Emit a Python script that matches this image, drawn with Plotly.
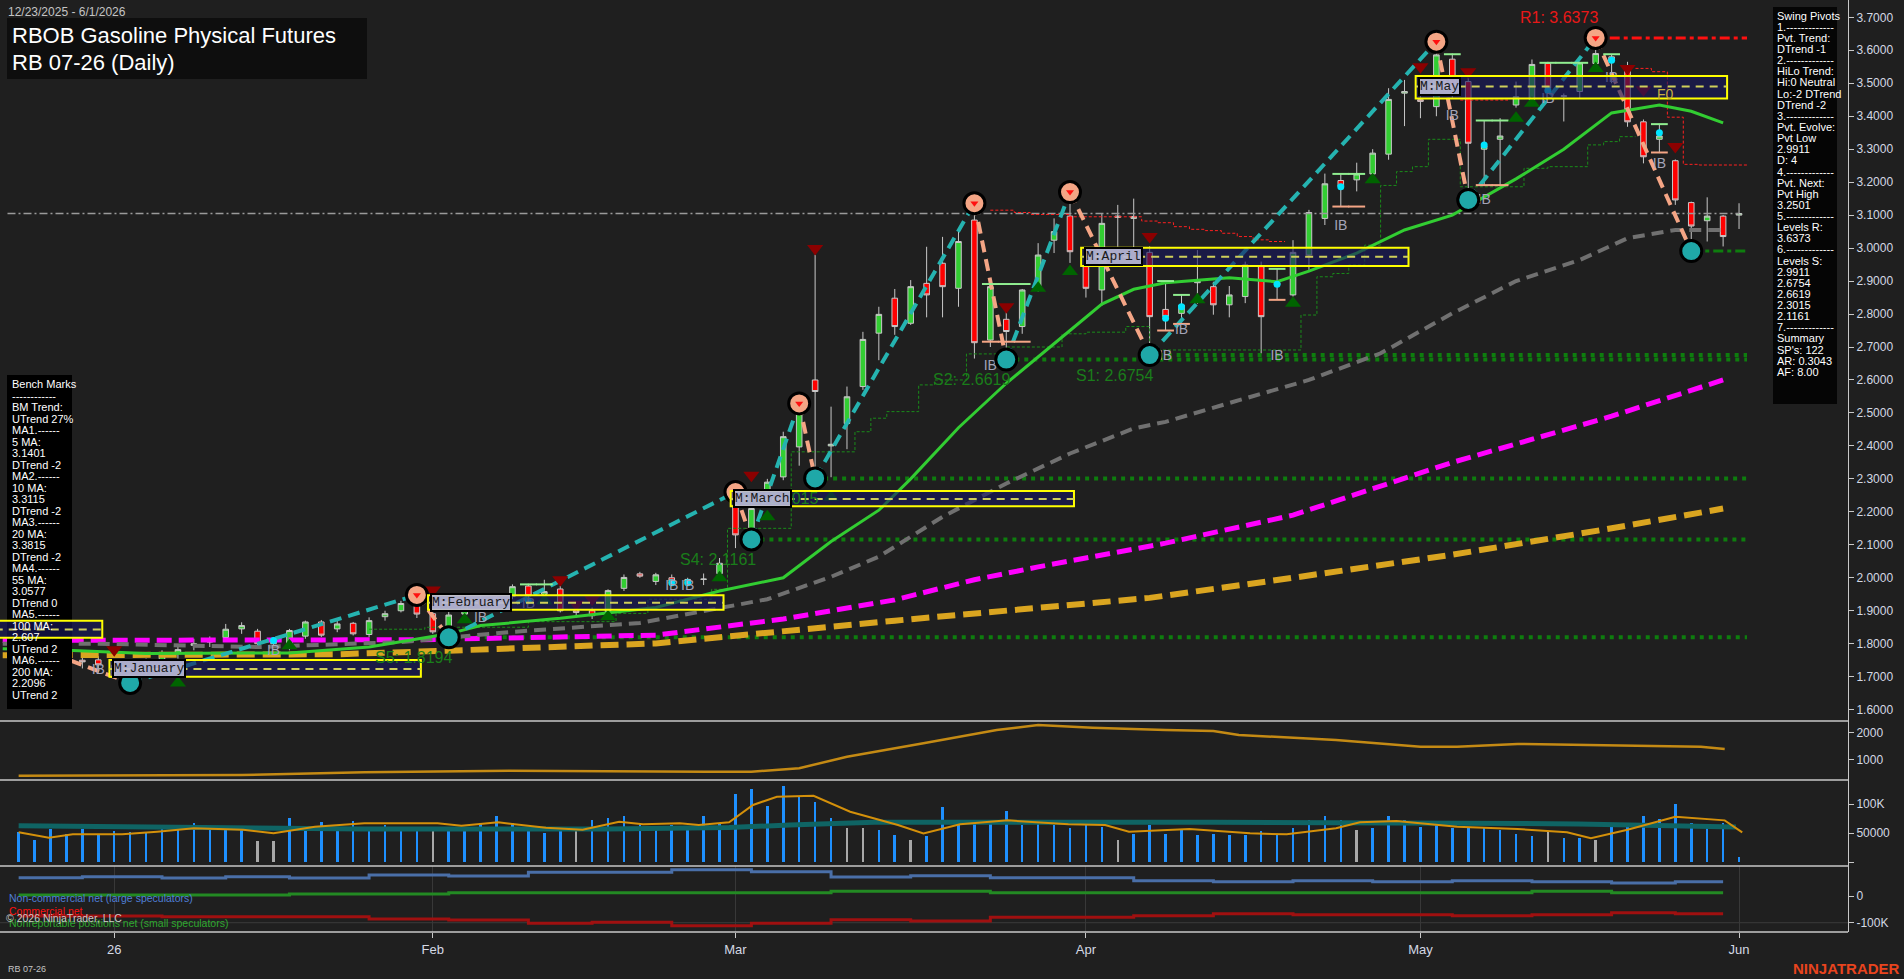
import plotly.graph_objects as go
from plotly.subplots import make_subplots

# ---------------- data ----------------
opens = [1.800, 1.790, 1.780, 1.760, 1.750, 1.751, 1.735, 1.710, 1.720, 1.745,
         1.770, 1.795, 1.805, 1.819, 1.845, 1.838, 1.800, 1.800, 1.823, 1.866,
         1.845, 1.862, 1.828, 1.882, 1.900, 1.920, 1.891, 1.847, 1.890, 1.935,
         1.920, 1.943, 1.975, 1.950, 1.966, 1.900, 1.900, 1.897, 1.968, 2.012,
         1.989, 2.000, 1.995, 1.995, 2.013, 2.221, 2.144, 2.265, 2.306, 2.397,
         2.600, 2.400, 2.468, 2.580, 2.742, 2.848, 2.772, 2.893, 2.954, 2.878,
         3.085, 2.721, 2.784, 2.762, 2.883, 3.024, 3.097, 2.944, 2.873, 3.093,
         3.090, 2.987, 2.814, 2.802, 2.895, 2.883, 2.828, 2.853, 2.944, 2.890,
         2.858, 2.979, 3.090, 3.205, 3.207, 3.225, 3.285, 3.470, 3.450, 3.429,
         3.573, 3.505, 3.300, 3.330, 3.434, 3.451, 3.560, 3.460, 3.475, 3.560,
         3.580, 3.550, 3.383, 3.330, 3.265, 3.138, 3.083, 3.097, 3.100]
highs = [1.820, 1.810, 1.800, 1.780, 1.770, 1.762, 1.745, 1.730, 1.755, 1.780,
         1.792, 1.815, 1.822, 1.860, 1.865, 1.845, 1.820, 1.845, 1.870, 1.872,
         1.870, 1.866, 1.880, 1.900, 1.930, 1.948, 1.900, 1.900, 1.945, 1.945,
         1.950, 1.980, 1.982, 1.994, 1.975, 1.905, 1.910, 1.965, 2.010, 2.018,
         2.015, 2.010, 2.000, 2.013, 2.060, 2.260, 2.240, 2.300, 2.443, 2.529,
         2.980, 2.519, 2.580, 2.746, 2.822, 2.876, 2.903, 3.004, 3.034, 3.054,
         3.146, 2.890, 2.820, 2.876, 3.015, 3.090, 3.170, 2.990, 3.105, 3.131,
         3.150, 3.005, 2.900, 2.858, 2.994, 2.898, 2.885, 2.959, 2.959, 2.939,
         3.024, 3.116, 3.226, 3.226, 3.259, 3.300, 3.485, 3.510, 3.520, 3.626,
         3.590, 3.540, 3.387, 3.394, 3.505, 3.572, 3.565, 3.469, 3.562, 3.6373,
         3.588, 3.565, 3.390, 3.376, 3.269, 3.141, 3.154, 3.100, 3.136]
lows = [1.780, 1.770, 1.750, 1.735, 1.725, 1.725, 1.700, 1.681, 1.705, 1.735,
        1.755, 1.780, 1.790, 1.810, 1.830, 1.790, 1.790, 1.780, 1.815, 1.820,
        1.835, 1.825, 1.820, 1.870, 1.895, 1.878, 1.830, 1.8194, 1.885, 1.905,
        1.910, 1.935, 1.935, 1.940, 1.895, 1.880, 1.875, 1.885, 1.960, 2.000,
        1.978, 1.980, 1.985, 1.978, 2.005, 2.090, 2.1161, 2.255, 2.296, 2.340,
        2.3015, 2.305, 2.390, 2.570, 2.660, 2.737, 2.767, 2.790, 2.790, 2.822,
        2.665, 2.700, 2.6619, 2.740, 2.868, 2.985, 2.955, 2.850, 2.825, 3.004,
        2.990, 2.6754, 2.750, 2.770, 2.831, 2.798, 2.790, 2.833, 2.680, 2.843,
        2.853, 2.934, 3.070, 3.126, 3.172, 3.222, 3.268, 3.370, 3.394, 3.400,
        3.455, 3.146, 3.191, 3.191, 3.426, 3.449, 3.478, 3.384, 3.455, 3.545,
        3.500, 3.368, 3.257, 3.288, 3.131, 2.9911, 3.020, 3.005, 3.058]
closes = [1.790, 1.780, 1.760, 1.750, 1.745, 1.736, 1.710, 1.720, 1.745, 1.770,
          1.782, 1.800, 1.811, 1.844, 1.855, 1.800, 1.810, 1.840, 1.866, 1.826,
          1.860, 1.830, 1.870, 1.891, 1.922, 1.890, 1.836, 1.887, 1.935, 1.920,
          1.940, 1.973, 1.945, 1.958, 1.900, 1.895, 1.885, 1.961, 2.001, 2.005,
          2.009, 1.990, 1.990, 1.996, 2.044, 2.130, 2.210, 2.290, 2.428, 2.499,
          2.565, 2.405, 2.549, 2.723, 2.799, 2.762, 2.883, 2.858, 2.883, 3.020,
          2.713, 2.883, 2.747, 2.873, 2.979, 3.050, 2.989, 2.878, 3.075, 3.097,
          3.096, 2.792, 2.792, 2.827, 2.900, 2.828, 2.858, 2.949, 2.792, 2.895,
          2.987, 3.108, 3.195, 3.187, 3.225, 3.288, 3.451, 3.475, 3.445, 3.586,
          3.480, 3.318, 3.310, 3.340, 3.459, 3.557, 3.485, 3.462, 3.562, 3.590,
          3.570, 3.383, 3.277, 3.340, 3.146, 3.067, 3.097, 3.035, 3.105]
bars = list(range(len(closes)))

volume_k = [51, 38, 57, 49, 57, 49, 53, 52, 51, 57,
            64, 67, 57, 55, 58, 36, 36, 76, 59, 69,
            57, 70, 61, 64, 55, 61, 55, 58, 59, 68,
            79, 68, 59, 50, 59, 55, 72, 76, 79, 67,
            61, 64, 60, 79, 68, 118, 126, 97, 131, 113,
            104, 76, 58, 58, 55, 46, 38, 44, 95, 70,
            68, 68, 88, 64, 69, 64, 58, 65, 61, 38,
            49, 64, 49, 55, 46, 48, 46, 46, 53, 47,
            59, 72, 80, 72, 55, 59, 80, 72, 61, 70,
            59, 59, 58, 55, 49, 44, 52, 42, 41, 38,
            64, 67, 80, 74, 100, 67, 65, 67, 9]
vol_neutral_bars = [15, 16, 26, 35, 52, 53, 56, 69, 84, 96, 99]

# moving averages (read at knots)
ma20_x = [-1, 3, 8, 17, 22, 27, 29, 34, 40, 44, 48, 51, 54, 56, 59, 62, 66, 68, 70, 72, 76, 79, 81, 84, 87, 90, 94, 97, 100, 103, 105, 107]
ma20_y = [1.785, 1.780, 1.770, 1.772, 1.790, 1.830, 1.855, 1.877, 1.910, 1.960, 2.000, 2.110, 2.205, 2.300, 2.455, 2.590, 2.750, 2.830, 2.875, 2.895, 2.910, 2.898, 2.930, 2.985, 3.055, 3.100, 3.210, 3.300, 3.410, 3.434, 3.415, 3.380]
ma55_x = [-1, 5, 15, 24, 31, 39, 47, 51, 54, 58, 62, 66, 70, 72, 76, 81, 85.5, 90, 94, 98, 101, 104, 107]
ma55_y = [1.800, 1.800, 1.790, 1.805, 1.836, 1.863, 1.935, 2.003, 2.064, 2.185, 2.286, 2.377, 2.453, 2.473, 2.530, 2.600, 2.681, 2.802, 2.900, 2.964, 3.030, 3.055, 3.055]
ma100_x = [-1, 10, 25, 40, 48, 55, 60, 64, 72, 80, 90, 100, 107]
ma100_y = [1.810, 1.810, 1.812, 1.826, 1.875, 1.933, 1.994, 2.033, 2.105, 2.190, 2.350, 2.490, 2.600]
ma200_x = [-1, 10, 20, 27, 40, 55, 71, 80, 90, 100, 107]
ma200_y = [1.765, 1.765, 1.768, 1.779, 1.801, 1.870, 1.939, 2.000, 2.070, 2.150, 2.210]

# swing pivots
piv_idx = [1, 7, 25, 27, 45, 46, 49, 50, 60, 62, 66, 71, 89, 91, 99, 105]
piv_px = [1.79, 1.681, 1.948, 1.8194, 2.26, 2.1161, 2.529, 2.3015, 3.136, 2.6619, 3.17, 2.6754, 3.626, 3.146, 3.6373, 2.9911]
piv_is_high = [True, False] * 8

support_levels = [2.9911, 2.6754, 2.6619, 2.3015, 2.1161, 1.8194]
support_start = [105, 71, 62, 50, 46, 27]
support_names = ["", "S1", "S2", "S3", "S4", "S5"]
resist_level = 3.6373
resist_start = 99
level_end = 108.5

# monthly reference boxes
month_names = ["December", "January", "February", "March", "April", "May"]
month_start = [-1.2, 6, 26, 45, 67, 88]
month_end = [5, 25, 44, 66, 87, 107]
month_mid = [1.843, 1.7234, 1.924, 2.239, 2.974, 3.490]
month_hi = [1.870, 1.751, 1.947, 2.263, 3.001, 3.522]
month_lo = [1.818, 1.700, 1.903, 2.217, 2.946, 3.454]

# trailing stop steps
green_trail_x = [22, 25.5, 32, 37.5, 39.5, 43.5, 44.5, 48.5, 52.5, 53.5, 54.5, 56.5, 57.5, 59.5, 62, 65.5, 67, 69.5, 71, 80.5, 81.5, 82.5, 83.5, 84.5, 85.5, 86.5, 87.5, 88.5, 90.5, 94.5, 96, 98.5, 99.5, 100.5, 101.5]
green_trail_y = [1.844, 1.850, 1.867, 1.892, 1.935, 1.965, 2.150, 2.382, 2.443, 2.484, 2.504, 2.585, 2.600, 2.679, 2.700, 2.740, 2.745, 2.762, 2.691, 2.797, 2.913, 2.923, 2.949, 3.009, 3.190, 3.232, 3.247, 3.330, 3.186, 3.242, 3.247, 3.313, 3.323, 3.338, 3.338]
red_trail_x = [61, 62.5, 63.5, 66, 70.5, 71.5, 72.5, 73.5, 74.5, 75.5, 76.5, 77.5, 78.5, 79.5, None, 90.5, 93.5, None, 101.5, 102.5, 103.5, 104.5, 105.5, 108.5]
red_trail_y = [3.115, 3.108, 3.102, 3.095, 3.082, 3.077, 3.065, 3.057, 3.053, 3.045, 3.035, 3.025, 3.020, 3.020, None, 3.449, 3.449, None, 3.545, 3.535, 3.397, 3.254, 3.252, 3.252]

# signal markers
tri_dn_idx = [6, 26, 34, 35, 36, 46, 50, 62, 71, 88, 91, 101, 102, 104]
tri_dn_px = [1.782, 1.963, 1.994, 1.920, 1.935, 2.311, 2.999, 2.822, 3.035, 3.550, 3.535, 3.545, 3.480, 3.308]
tri_up_idx = [10, 17, 28, 33, 37, 44, 47, 51, 64, 66, 74, 80, 85, 94, 95, 99]
tri_up_px = [1.681, 1.794, 1.873, 1.930, 1.882, 2.000, 2.185, 2.244, 2.878, 2.929, 2.843, 2.833, 3.207, 3.394, 3.439, 3.545]
ib_idx = [5, 16, 29, 32, 41, 42, 61, 72, 73, 79, 83, 90, 92, 96, 100, 103]
ib_px = [1.720, 1.775, 1.878, 1.920, 1.975, 1.975, 2.640, 2.670, 2.750, 2.670, 3.065, 3.400, 3.145, 3.450, 3.515, 3.255]
dot_idx = [16, 32, 41, 42, 72, 73, 79, 83, 92, 96, 100, 103]
dot_px = [1.810, 1.930, 1.985, 1.985, 2.787, 2.822, 2.890, 3.186, 3.313, 3.478, 3.570, 3.350]
hi_tick_idx = [32, 33, 61, 62, 63, 72, 73, 79, 83, 84, 90, 92, 93, 96, 97, 98, 100, 103]
hi_tick_px = [1.980, 1.980, 2.891, 2.891, 2.891, 2.900, 2.858, 2.937, 3.225, 3.225, 3.588, 3.387, 3.387, 3.562, 3.562, 3.562, 3.588, 3.376]
lo_tick_idx = [61, 62, 63, 72, 73, 79, 83, 84, 92, 93, 103]
lo_tick_px = [2.716, 2.716, 2.716, 2.750, 2.770, 2.843, 3.126, 3.126, 3.191, 3.191, 3.290]

# sub panel 1 (line)
osc_x = [0, 9.5, 14, 21.7, 30.8, 43, 46, 49, 52, 56.8, 61.4, 64, 67.4, 72, 75, 76.6, 82.7, 88, 90.3, 94.1, 98, 105.6, 107.1]
osc_y = [418, 418, 444, 544, 604, 567, 567, 693, 1122, 1618, 2111, 2296, 2197, 2111, 2074, 1926, 1741, 1494, 1494, 1593, 1556, 1494, 1407]

# sub panel 2 (volume averages, thousands)
vavg_x = [0, 1.9, 3.4, 6.5, 8.7, 11, 14.1, 16, 18.6, 21.7, 26.3, 27.8, 30.1, 33.1, 35.4, 37.7, 39.2, 41.5, 42.7, 44.6, 46.1, 47.6, 49.9, 52.2, 55.2, 56.8, 59.1, 62.1, 65.9, 68.2, 69.7, 73.5, 77.3, 79.6, 82.7, 84.2, 86.5, 90.3, 94.1, 97.2, 98.7, 101, 104, 107.1, 108.2]
vavg_y = [51.2, 41.9, 47.7, 47.7, 52.3, 58.1, 55.5, 49.4, 60.9, 66.7, 66.7, 62.6, 68.4, 59.2, 55.5, 69.5, 64.9, 66.7, 63.8, 68.4, 98.3, 112.6, 114.3, 86.7, 63.8, 49.4, 64.9, 71.8, 64.9, 63.8, 52.3, 56.9, 49.4, 47.7, 58.1, 68.4, 70.7, 60.9, 56.9, 51.2, 40.8, 55.5, 78.1, 71.8, 51.2]
vlong_x = [0, 10.3, 17.9, 21.7, 37, 44.6, 48.4, 53.7, 75.1, 82.7, 94.1, 97.9, 101.7, 107.8]
vlong_y = [62.6, 60.3, 59.0, 56.9, 56.9, 59.5, 63.8, 68.4, 68.4, 68.4, 66.5, 65.5, 63.8, 60.3]

# sub panel 3 (COT, thousands, weekly)
cot_idx = [0, 4, 9, 13, 17, 22, 27, 32, 36, 41, 46, 51, 56, 61, 65, 70, 75, 80, 85, 90, 95, 100, 104, 107]
cot_noncomm = [68.5, 72.3, 67.4, 72.3, 67.4, 78.7, 74.9, 88.6, 88.6, 98.6, 91.1, 71.2, 76.1, 68.5, 68.5, 57.4, 53.6, 57.4, 53.6, 57.4, 53.6, 48.7, 53.6, 53.6]
cot_nonrep = [3.7, 3.7, 3.7, 3.7, 7.5, 7.5, 12.5, 12.5, 12.5, 12.5, 12.5, 17.5, 17.5, 12.5, 12.5, 12.5, 12.5, 12.5, 12.5, 12.5, 17.5, 12.5, 12.5, 12.5]
cot_comm = [-75, -75, -77.5, -77.5, -77.5, -86, -90, -102, -98.5, -111, -102, -88.6, -93.6, -79.9, -79.9, -73.7, -66.2, -69.9, -69.9, -73.7, -69.9, -62.4, -66.2, -66.2]

x_tick_idx = [6, 26, 45, 67, 88, 108]
x_tick_text = ["26", "Feb", "Mar", "Apr", "May", "Jun"]

bench_lines = ["Bench Marks", "------------", "BM Trend:", "UTrend 27%", "MA1.------", "5 MA:", "3.1401",
               "DTrend -2", "MA2.------", "10 MA:", "3.3115", "DTrend -2", "MA3.------", "20 MA:", "3.3815",
               "DTrend -2", "MA4.------", "55 MA:", "3.0577", "DTrend 0", "MA5.------", "100 MA:", "2.607",
               "UTrend 2", "MA6.------", "200 MA:", "2.2096", "UTrend 2"]
pivot_lines = ["Swing Pivots", "1.-------------", "Pvt. Trend:", "DTrend -1", "2.-------------", "HiLo Trend:",
               "Hi:0 Neutral", "Lo:-2 DTrend", "DTrend -2", "3.-------------", "Pvt. Evolve:", "Pvt Low", "2.9911",
               "D: 4", "4.-------------", "Pvt. Next:", "Pvt High", "3.2501", "5.-------------", "Levels R:",
               "3.6373", "6.-------------", "Levels S:", "2.9911", "2.6754", "2.6619", "2.3015", "2.1161",
               "7.-------------", "Summary", "SP's: 122", "AR: 0.3043", "AF: 8.00"]

# ---------------- layout helpers ----------------
PW, PH = 1848, 932
def px(x):
    return x / PW
def py(y):
    return (PH - y) / PH

BG = "#1f1f1f"
AXC = "#c8c8c8"
TICKF = dict(family="Liberation Sans, Arial", size=12, color="#d4d9e4")
SANS = "Liberation Sans, Arial"

fig = make_subplots(rows=4, cols=1, shared_xaxes=True, vertical_spacing=0)

# support / resistance levels
for lvl, st, nm in zip(support_levels, support_start, support_names):
    fig.add_trace(go.Scatter(x=[st, level_end], y=[lvl, lvl], mode="lines",
                             line=dict(color="#0e7d0e", width=4 if nm else 3,
                                       dash="4px,5px" if nm else "10px,4px,4px,4px")),
                  row=1, col=1)
fig.add_trace(go.Scatter(x=[resist_start - 0.5, level_end], y=[resist_level, resist_level], mode="lines",
                         line=dict(color="#ff1010", width=3, dash="10px,4px,4px,4px")), row=1, col=1)
# last price line
fig.add_trace(go.Scatter(x=[-0.7, bars[-1]], y=[closes[-1], closes[-1]], mode="lines",
                         line=dict(color="#9a9a9a", width=1.5, dash="8px,3px,2px,3px")), row=1, col=1)
# trailing steps
fig.add_trace(go.Scatter(x=green_trail_x, y=green_trail_y, mode="lines", line_shape="hv",
                         line=dict(color="#1a8c1a", width=1, dash="3px,2px")), row=1, col=1)
fig.add_trace(go.Scatter(x=red_trail_x, y=red_trail_y, mode="lines", line_shape="hv", connectgaps=False,
                         line=dict(color="#ff2020", width=1, dash="3px,2px")), row=1, col=1)

# candles
fig.add_trace(go.Candlestick(x=bars, open=opens, high=highs, low=lows, close=closes,
                             increasing=dict(fillcolor="#32cd32", line=dict(color="#c8c8c8", width=1)),
                             decreasing=dict(fillcolor="#ff0000", line=dict(color="#c8c8c8", width=1)),
                             whiskerwidth=0), row=1, col=1)

# moving averages
fig.add_trace(go.Scatter(x=ma200_x, y=ma200_y, mode="lines", line=dict(color="#daa520", width=6, dash="18px,8px")), row=1, col=1)
fig.add_trace(go.Scatter(x=ma100_x, y=ma100_y, mode="lines", line=dict(color="#ff00ff", width=5, dash="15px,7px")), row=1, col=1)
fig.add_trace(go.Scatter(x=ma55_x, y=ma55_y, mode="lines", line=dict(color="#707070", width=4, dash="12px,7px")), row=1, col=1)
fig.add_trace(go.Scatter(x=ma20_x, y=ma20_y, mode="lines", line=dict(color="#32cd32", width=3)), row=1, col=1)

# zigzag
up_x, up_y, dn_x, dn_y = [], [], [], []
for k in range(len(piv_idx) - 1):
    seg_x = [piv_idx[k], piv_idx[k + 1], None]
    seg_y = [piv_px[k], piv_px[k + 1], None]
    if piv_is_high[k]:
        dn_x += seg_x; dn_y += seg_y
    else:
        up_x += seg_x; up_y += seg_y
fig.add_trace(go.Scatter(x=up_x, y=up_y, mode="lines", line=dict(color="#25b3b0", width=4, dash="12px,7px")), row=1, col=1)
fig.add_trace(go.Scatter(x=dn_x, y=dn_y, mode="lines", line=dict(color="#f4a585", width=4, dash="12px,7px")), row=1, col=1)

# small marks
fig.add_trace(go.Scatter(x=hi_tick_idx, y=hi_tick_px, mode="markers",
                         marker=dict(symbol="line-ew", size=12, line=dict(color="#90ee90", width=2))), row=1, col=1)
fig.add_trace(go.Scatter(x=lo_tick_idx, y=lo_tick_px, mode="markers",
                         marker=dict(symbol="line-ew", size=12, line=dict(color="#f4a585", width=2))), row=1, col=1)
fig.add_trace(go.Scatter(x=dot_idx, y=dot_px, mode="markers",
                         marker=dict(symbol="circle", size=7, color="#00e5ff")), row=1, col=1)
fig.add_trace(go.Scatter(x=tri_dn_idx, y=tri_dn_px, mode="markers",
                         marker=dict(symbol="triangle-down", size=14, color="#8b0000")), row=1, col=1)
fig.add_trace(go.Scatter(x=tri_up_idx, y=tri_up_px, mode="markers",
                         marker=dict(symbol="triangle-up", size=14, color="#006400")), row=1, col=1)
fig.add_trace(go.Scatter(x=ib_idx, y=ib_px, mode="text", text=["IB"] * len(ib_idx),
                         textfont=dict(family=SANS, size=14, color="#a4a4b8")), row=1, col=1)

# pivot circles
hx = [i for i, h in zip(piv_idx, piv_is_high) if h]
hy = [p for p, h in zip(piv_px, piv_is_high) if h]
lx = [i for i, h in zip(piv_idx, piv_is_high) if not h]
ly = [p for p, h in zip(piv_px, piv_is_high) if not h]
fig.add_trace(go.Scatter(x=hx, y=hy, mode="markers",
                         marker=dict(symbol="circle", size=21, color="#f4a585", line=dict(color="#000000", width=3))), row=1, col=1)
fig.add_trace(go.Scatter(x=hx, y=hy, mode="markers",
                         marker=dict(symbol="triangle-down", size=7, color="#ff1010")), row=1, col=1)
fig.add_trace(go.Scatter(x=lx, y=ly, mode="markers",
                         marker=dict(symbol="circle", size=21, color="#1fa8a8", line=dict(color="#000000", width=3))), row=1, col=1)

# ---- sub panel 1
fig.add_trace(go.Scatter(x=osc_x, y=osc_y, mode="lines", line=dict(color="#c48a14", width=2.5)), row=2, col=1)

# ---- sub panel 2
vol_colors = ["#a8a8a8" if i in vol_neutral_bars else "#1e90ff" for i in bars]
fig.add_trace(go.Bar(x=bars, y=[v * 1000 for v in volume_k], width=0.16, marker=dict(color=vol_colors, line=dict(width=0))), row=3, col=1)
fig.add_trace(go.Scatter(x=vlong_x, y=[v * 1000 for v in vlong_y], mode="lines", line=dict(color="#0f6464", width=5)), row=3, col=1)
fig.add_trace(go.Scatter(x=vavg_x, y=[v * 1000 for v in vavg_y], mode="lines", line=dict(color="#d4900a", width=2)), row=3, col=1)

# ---- sub panel 3
fig.add_trace(go.Scatter(x=cot_idx, y=[v * 1000 for v in cot_noncomm], mode="lines", line_shape="hv",
                         line=dict(color="#4a6fa8", width=3)), row=4, col=1)
fig.add_trace(go.Scatter(x=cot_idx, y=[v * 1000 for v in cot_nonrep], mode="lines", line_shape="hv",
                         line=dict(color="#238a23", width=3)), row=4, col=1)
fig.add_trace(go.Scatter(x=cot_idx, y=[v * 1000 for v in cot_comm], mode="lines", line_shape="hv",
                         line=dict(color="#a01010", width=3)), row=4, col=1)

# ---------------- axes ----------------
XR = [-1.17, 114.84]
fig.update_xaxes(range=XR, showgrid=False, zeroline=False, showline=False, rangeslider_visible=False,
                 showticklabels=False, ticks="")
fig.update_xaxes(row=4, col=1, showticklabels=True, tickmode="array", tickvals=x_tick_idx, ticktext=x_tick_text,
                 ticks="outside", ticklen=5, tickcolor=AXC, tickfont=dict(family=SANS, size=13, color="#d4d9e4"),
                 showgrid=True, gridcolor="#383838", gridwidth=1)

yc = dict(side="right", showgrid=False, zeroline=False, showline=True, linecolor=AXC, linewidth=1,
          ticks="outside", ticklen=5, tickcolor=AXC, tickfont=TICKF)
fig.update_layout(
    yaxis=dict(domain=[py(721), 1], range=[1.5656, 3.7525], tickmode="array",
               tickvals=[round(1.6 + 0.1 * k, 1) for k in range(22)], tickformat=".4f", **yc),
    yaxis2=dict(domain=[py(780), py(721)], range=[259, 2444], tickvals=[1000, 2000], **yc),
    yaxis3=dict(domain=[py(866), py(780)], range=[-6897, 141379], tickvals=[0, 50000, 100000],
                ticktext=["", "50000", "100K"], **yc),
    yaxis4=dict(domain=[0, py(866)], range=[-134832, 112360], tickvals=[0, -100000],
                ticktext=["0", "-100K"], **yc),
)

shapes = []
annotations = []

# panel separators
for ysep in [721, 780, 866, 932]:
    shapes.append(dict(type="line", xref="paper", yref="paper", x0=0, x1=1, y0=py(ysep), y1=py(ysep),
                       line=dict(color=AXC, width=1.5), layer="above"))
# -100K grid line
shapes.append(dict(type="line", xref="paper", yref="y4", x0=0, x1=1, y0=-100000, y1=-100000,
                   line=dict(color="#3a3a3a", width=1), layer="below"))

# bench marks panel
shapes.append(dict(type="rect", xref="paper", yref="paper", x0=px(7), x1=px(72), y0=py(709), y1=py(375),
                   fillcolor="#000000", line=dict(width=0), layer="above"))
# swing pivots panel
shapes.append(dict(type="rect", xref="paper", yref="paper", x0=px(1773), x1=px(1837), y0=py(404), y1=py(7),
                   fillcolor="#050505", line=dict(width=0), layer="above"))
# title panel
shapes.append(dict(type="rect", xref="paper", yref="paper", x0=px(7), x1=px(367), y0=py(79), y1=py(18),
                   fillcolor="#0e0e0e", line=dict(width=0), layer="above"))

# month boxes
for nm, s, e, mid, hi, lo in zip(month_names, month_start, month_end, month_mid, month_hi, month_lo):
    shapes.append(dict(type="rect", xref="x", yref="y", x0=s - 0.3, x1=e + 0.25, y0=lo, y1=hi,
                       fillcolor="rgba(24,24,96,0.62)", line=dict(color="#ffff00", width=2), layer="above"))
    shapes.append(dict(type="line", xref="x", yref="y", x0=s - 0.3, x1=e + 0.25, y0=mid, y1=mid,
                       line=dict(color="#cfcf5a", width=2, dash="8px,6px"), layer="above"))

# S level labels (S3 first so the March label covers it)
for lvl, st, nm in zip(support_levels, support_start, support_names):
    if nm:
        annotations.append(dict(x=st + 0.4, y=lvl, xref="x", yref="y", text=f"{nm}: {lvl:.4f}", showarrow=False,
                                xanchor="right", yanchor="middle", yshift=-20,
                                font=dict(family=SANS, size=16, color="#1a7d1a")))
annotations.append(dict(x=resist_start + 0.3, y=resist_level, xref="x", yref="y", text=f"R1: {resist_level:.4f}",
                        showarrow=False, xanchor="right", yanchor="middle", yshift=20,
                        font=dict(family=SANS, size=16, color="#e81818")))
annotations.append(dict(x=103.4, y=month_mid[-1], xref="x", yref="y", text="F0", showarrow=False,
                        yshift=-7, font=dict(family=SANS, size=14, color="#c8b040")))

for nm, s, mid in zip(month_names, month_start, month_mid):
    annotations.append(dict(x=s - 0.15, y=mid, xref="x", yref="y", text=f"M:{nm}", showarrow=False,
                            xanchor="left", yanchor="middle", bgcolor="rgba(184,184,214,0.92)",
                            bordercolor="#000000", borderwidth=2, borderpad=0,
                            font=dict(family="Liberation Mono, Courier New, monospace", size=13, color="#1a1a1a")))

# bench marks text
for k, t in enumerate(bench_lines):
    annotations.append(dict(x=px(10), y=py(384 + k * 11.5), xref="paper", yref="paper", text=t, showarrow=False,
                            xanchor="left", yanchor="middle", font=dict(family=SANS, size=11, color="#ffffff")))
# swing pivots text
for k, t in enumerate(pivot_lines):
    annotations.append(dict(x=px(1775), y=py(15.7 + k * 11.13), xref="paper", yref="paper", text=t, showarrow=False,
                            xanchor="left", yanchor="middle", font=dict(family=SANS, size=11, color="#ffffff")))

# title texts
annotations.append(dict(x=px(6), y=py(12), xref="paper", yref="paper", text="12/23/2025 - 6/1/2026", showarrow=False,
                        xanchor="left", yanchor="middle", font=dict(family=SANS, size=12, color="#c4c4c4")))
annotations.append(dict(x=px(10), y=py(35), xref="paper", yref="paper", text="RBOB Gasoline Physical Futures",
                        showarrow=False, xanchor="left", yanchor="middle", font=dict(family=SANS, size=22, color="#ffffff")))
annotations.append(dict(x=px(10), y=py(62), xref="paper", yref="paper", text="RB 07-26 (Daily)",
                        showarrow=False, xanchor="left", yanchor="middle", font=dict(family=SANS, size=22, color="#ffffff")))

# COT legend texts
annotations.append(dict(x=px(7), y=py(898), xref="paper", yref="paper", text="Non-commercial net (large speculators)",
                        showarrow=False, xanchor="left", yanchor="middle", font=dict(family=SANS, size=10.5, color="#4f7fd8")))
annotations.append(dict(x=px(7), y=py(910.5), xref="paper", yref="paper", text="Commercial net",
                        showarrow=False, xanchor="left", yanchor="middle", font=dict(family=SANS, size=10.5, color="#ff1010")))
annotations.append(dict(x=px(7), y=py(923), xref="paper", yref="paper", text="Nonreportable positions net (small speculators)",
                        showarrow=False, xanchor="left", yanchor="middle", font=dict(family=SANS, size=10.5, color="#2ea82e")))
annotations.append(dict(x=px(4), y=py(917.5), xref="paper", yref="paper", text="© 2026 NinjaTrader, LLC",
                        showarrow=False, xanchor="left", yanchor="middle", font=dict(family=SANS, size=10.5, color="#c8c8c8")))

# footer
annotations.append(dict(x=px(6), y=py(969), xref="paper", yref="paper", text="RB 07-26",
                        showarrow=False, xanchor="left", yanchor="middle", font=dict(family=SANS, size=9, color="#c4c4c4")))
annotations.append(dict(x=px(1902), y=py(968), xref="paper", yref="paper", text="<b>NINJATRADER</b>",
                        showarrow=False, xanchor="right", yanchor="middle", font=dict(family=SANS, size=15, color="#e8441e")))

fig.update_layout(
    width=1904, height=979,
    margin=dict(l=0, r=56, t=0, b=47),
    paper_bgcolor=BG, plot_bgcolor=BG,
    showlegend=False, hovermode=False,
    boxgap=0.5, bargap=0,
    shapes=shapes, annotations=annotations,
)

fig.write_html("out.html", config={"displayModeBar": False})
